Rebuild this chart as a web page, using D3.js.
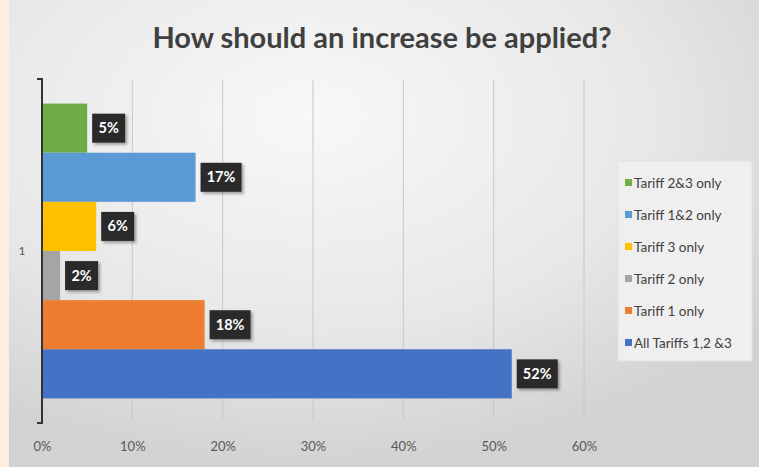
<!DOCTYPE html>
<html>
<head>
<meta charset="utf-8">
<script src="https://d3js.org/d3.v7.min.js"></script>
<style>
  body { margin: 0; padding: 0; background: #fdeee0; }
  svg { display: block; font-family: Lato, "Open Sans", sans-serif; }
</style>
</head>
<body>
<div class="chart"></div>
<script>
var width = 759,
    height = 467;

// data, top to bottom as drawn
var categories = ["Tariff 2&3 only", "Tariff 1&2 only", "Tariff 3 only", "Tariff 2 only", "Tariff 1 only", "All Tariffs 1,2 &3"];
var values = [5, 17, 6, 2, 18, 52];
var colors = ["#70ad47", "#5b9bd5", "#ffc000", "#a5a5a5", "#ed7d31", "#4472c4"];
var xTicks = [0, 10, 20, 30, 40, 50, 60];
var groupLabel = "1";

var svg = d3.select(".chart").append("svg")
    .attr("width", width)
    .attr("height", height);

var defs = svg.append("defs");
var grad = defs.append("radialGradient")
    .attr("id", "bg")
    .attr("cx", "40%").attr("cy", "25%").attr("r", "75%");
grad.append("stop").attr("offset", "0%").attr("stop-color", "#f8f8f8");
grad.append("stop").attr("offset", "60%").attr("stop-color", "#e8e8e8");
grad.append("stop").attr("offset", "100%").attr("stop-color", "#d2d2d2");

var shadow = defs.append("filter").attr("id", "shadow")
    .attr("x", "-30%").attr("y", "-30%").attr("width", "170%").attr("height", "170%");
shadow.append("feDropShadow")
    .attr("dx", 2).attr("dy", 2).attr("stdDeviation", 1.5)
    .attr("flood-color", "#000").attr("flood-opacity", 0.35);

// peach strip on the left, then the chart panel
svg.append("rect")
    .attr("x", 0).attr("y", 0)
    .attr("width", width).attr("height", height)
    .attr("fill", "#fdeee0");
svg.append("rect")
    .attr("x", 9).attr("y", 0)
    .attr("width", width - 9).attr("height", height)
    .attr("fill", "url(#bg)");

var x = d3.scaleLinear()
    .domain([0, 60])
    .range([42, 584]);

var y = d3.scaleBand()
    .domain(categories)
    .range([80, 422])
    .paddingInner(0)
    .paddingOuter(0.48);

// title
svg.append("text")
    .attr("x", 382)
    .attr("y", 48)
    .attr("text-anchor", "middle")
    .attr("font-size", 29)
    .attr("font-weight", "bold")
    .attr("fill", "#404040")
    .text("How should an increase be applied?");

// gridlines
svg.append("g")
    .selectAll("line")
    .data(xTicks.slice(1))
    .enter().append("line")
    .attr("x1", function(d) { return x(d); })
    .attr("x2", function(d) { return x(d); })
    .attr("y1", 80)
    .attr("y2", 420)
    .attr("stroke", "#c8c8c8")
    .attr("stroke-width", 1);

// x axis tick labels
var xAxis = d3.axisBottom(x)
    .tickValues(xTicks)
    .tickSize(0)
    .tickFormat(function(d) { return d + "%"; });

var gx = svg.append("g")
    .attr("transform", "translate(0,439)")
    .call(xAxis);
gx.select(".domain").remove();
gx.selectAll("text")
    .attr("font-size", 13)
    .attr("font-family", "Lato, sans-serif")
    .attr("fill", "#595959");

// bars
svg.append("g")
    .selectAll("rect")
    .data(categories)
    .enter().append("rect")
    .attr("x", x(0))
    .attr("y", function(d) { return y(d); })
    .attr("width", function(d, i) { return x(values[i]) - x(0); })
    .attr("height", y.bandwidth())
    .attr("fill", function(d, i) { return colors[i]; });

// vertical axis with small hooks at each end
var axisPath = d3.path();
axisPath.moveTo(37, 79);
axisPath.lineTo(42, 79);
axisPath.lineTo(42, 423);
axisPath.lineTo(37, 423);
svg.append("path")
    .attr("d", axisPath.toString())
    .attr("fill", "none")
    .attr("stroke", "#333")
    .attr("stroke-width", 2);

svg.append("text")
    .attr("x", 22)
    .attr("y", 255)
    .attr("text-anchor", "middle")
    .attr("font-size", 12)
    .attr("fill", "#595959")
    .text(groupLabel);

// data labels in dark boxes
function boxW(i) { return String(values[i]).length > 1 ? 41 : 33; }

var labels = svg.append("g")
    .selectAll("g")
    .data(categories)
    .enter().append("g")
    .attr("transform", function(d, i) {
      return "translate(" + (x(values[i]) + 5) + "," + (y(d) + y.bandwidth() / 2) + ")";
    });

labels.append("rect")
    .attr("x", 0)
    .attr("y", -14.5)
    .attr("width", function(d, i) { return boxW(i); })
    .attr("height", 29)
    .attr("fill", "#2b2b2b")
    .attr("filter", "url(#shadow)");

labels.append("text")
    .attr("x", function(d, i) { return boxW(i) / 2; })
    .attr("y", 5)
    .attr("text-anchor", "middle")
    .attr("font-size", 14.5)
    .attr("font-weight", "bold")
    .attr("fill", "#fff")
    .text(function(d, i) { return values[i] + "%"; });

// legend
var legend = svg.append("g");
legend.append("rect")
    .attr("x", 618).attr("y", 161)
    .attr("width", 134).attr("height", 200)
    .attr("fill", "#efefef")
    .attr("stroke", "#e2e2e2");

var item = legend.selectAll("g")
    .data(categories)
    .enter().append("g")
    .attr("transform", function(d, i) { return "translate(625," + (183 + i * 32) + ")"; });

item.append("rect")
    .attr("x", 0).attr("y", -4)
    .attr("width", 7).attr("height", 7)
    .attr("fill", function(d, i) { return colors[i]; });

item.append("text")
    .attr("x", 9)
    .attr("y", 4.5)
    .attr("font-size", 13.5)
    .attr("fill", "#404040")
    .text(function(d) { return d; });
</script>
</body>
</html>
